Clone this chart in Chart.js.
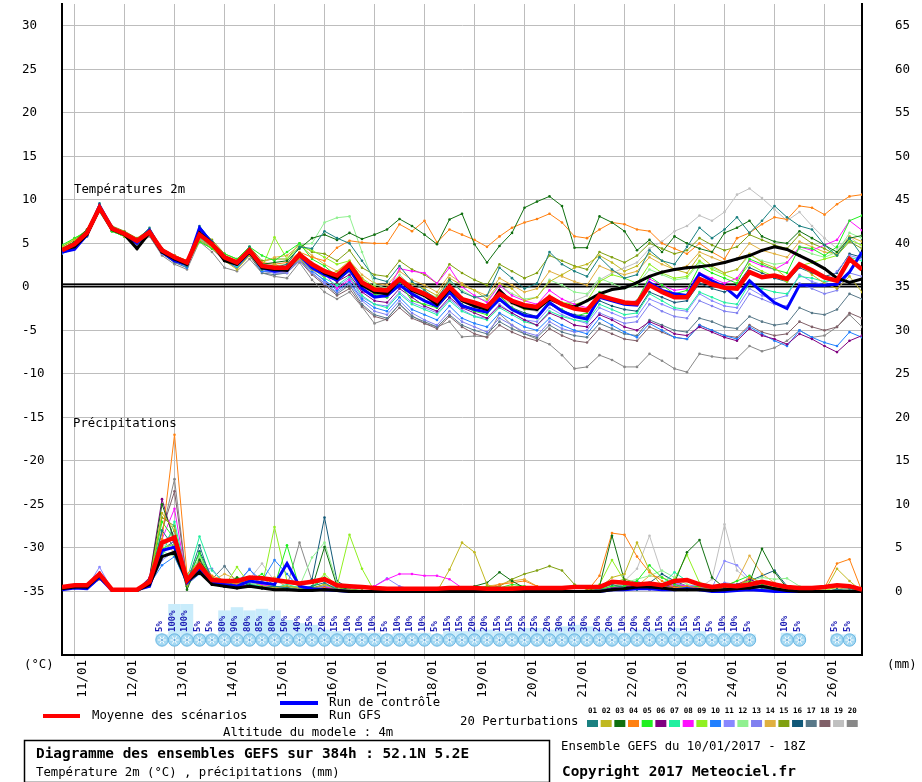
<!DOCTYPE html>
<html>
<head>
<meta charset="utf-8">
<title>Diagramme des ensembles GEFS</title>
<script src="https://cdn.jsdelivr.net/npm/chart.js@4"></script>
<style>
  body { margin: 0; background: #fff; }
  canvas { display: block; }
</style>
</head>
<body>
<canvas id="gefs" width="922" height="782"></canvas>
<script>
// ensemble GEFS 10/01/2017 18Z, one value per 6h step (0..384h)
const DAY_LABELS = ["11/01","12/01","13/01","14/01","15/01","16/01","17/01","18/01","19/01","20/01","21/01","22/01","23/01","24/01","25/01","26/01"];
const TEMP_TICKS = [-35,-30,-25,-20,-15,-10,-5,0,5,10,15,20,25,30];
const MM_TICKS = [0,5,10,15,20,25,30,35,40,45,50,55,60,65];

// temperature 2m (°C)
const MEAN_T = [4.2,4.9,6.2,9.1,6.7,6.1,5.3,6.3,4.2,3.4, 2.8,6.0,4.9,3.4,2.8,4.2,2.4,2.2,2.2,3.7, 2.6,1.8,1.3,2.6,0.5,-0.3,-0.4,0.9,-0.2,-0.8, -1.6,0.0,-1.4,-1.8,-2.3,-0.8,-1.6,-2.1,-2.3,-1.2, -2.0,-2.5,-2.7,-1.0,-1.4,-1.8,-1.9,0.2,-0.6,-1.2, -1.2,0.9,0.3,-0.1,-0.2,1.7,1.1,1.3,0.9,2.6, 1.9,1.1,0.7,3.2,2.0];
const CONTROL_T = [4.0,4.3,6.0,9.3,6.8,6.0,5.0,6.5,4.0,3.0, 2.6,6.8,5.0,3.2,2.6,4.0,2.2,1.8,2.0,3.6, 2.2,1.4,0.8,2.0,-0.2,-1.2,-1.0,0.2,-0.8,-1.6, -2.2,-0.6,-2.2,-2.6,-2.9,-1.4,-2.6,-3.3,-3.5,-1.8, -2.8,-3.4,-3.7,-1.2,-1.6,-2.0,-2.1,0.5,-0.4,-0.8, -1.0,1.5,0.7,0.0,-1.2,0.7,-0.6,-1.8,-2.5,0.2, 0.2,0.2,0.3,1.7,4.0];
const GFS_T = [4.3,4.6,6.0,9.0,6.6,6.0,4.4,6.2,4.0,3.2, 2.6,6.2,5.0,3.0,2.6,4.0,2.2,2.0,1.9,3.8, 2.6,1.6,1.0,2.4,0.2,-0.6,-0.8,0.8,-0.4,-1.0, -2.0,-0.2,-1.6,-2.2,-2.6,-0.4,-1.8,-2.4,-2.6,-1.4, -2.0,-2.3,-1.6,-0.8,-0.3,-0.1,0.5,1.2,1.7,2.0, 2.2,2.3,2.5,2.8,3.2,3.6,4.2,4.6,4.3,3.6, 2.9,2.1,1.0,0.5,0.9];

const P01_T = [4.0,4.8,6.4,9.6,6.8,6.2,5.4,6.8,4.4,3.2,2.4,7.0,5.2,3.6,2.8,4.6,2.0,2.2,2.6,4.6,4.4, 6.4,5.6,5.0,3.0,1.0,0.6,2.4,0.6,-0.4,-1.4,0.8,-0.6,-1.2,-1.0,2.2,1.0,-0.2,0.4,4.0,2.6,1.8,1.2,3.4,2.0,1.0,1.4,4.2,3.0,2.6,4.6,6.8,5.6,6.6,8.0,6.2,7.6,9.3,8.0,7.0,6.6,4.8,3.6,5.6,3.6];
const P02_T = [4.6,5.4,6.0,8.8,6.6,5.8,5.2,6.0,4.0,3.2,2.6,5.4,4.6,3.0,2.0,3.6,2.0,2.6,2.0,3.2,2.0, 1.2,1.8,2.8,1.0,-0.6,-0.8,0.6,0.4,-0.2,-1.0,1.0,0.2,-0.4,-1.4,0.4,-0.2,-1.6,-1.2,0.6,1.4,2.2,2.6,3.6,2.8,1.8,2.4,3.8,3.0,2.0,1.6,3.6,2.4,1.6,2.0,3.8,2.8,2.2,1.0,2.6,1.4,0.4,-0.2,1.2,-0.6];
const P03_T = [4.4,5.2,6.6,9.2,6.8,6.2,5.4,6.4,4.2,3.0,2.4,6.2,5.0,3.4,2.6,4.0,2.6,2.8,3.0,4.4,5.6, 6.0,5.4,6.2,5.5,6.0,6.6,7.8,7.0,6.0,4.9,7.75,8.4,4.9,2.8,4.7,6.2,9.1,9.8,10.4,9.3,4.5,4.5,8.1,7.4,6.4,4.2,5.4,4.0,5.8,5.0,4.4,4.0,6.2,6.8,7.6,5.8,5.2,5.0,6.4,5.6,4.8,4.0,5.6,5.9];
const P04_T = [4.2,5.0,6.2,9.0,6.6,6.0,5.4,6.2,4.4,3.6,3.0,5.8,4.8,3.6,3.0,4.4,2.8,2.6,2.8,4.0,3.4, 3.0,4.5,5.3,5.1,5.0,5.0,7.2,6.4,7.6,5.1,6.6,6.0,5.4,4.6,5.8,6.8,7.4,7.8,8.4,7.4,5.8,5.6,6.6,7.4,7.2,6.6,6.4,5.0,4.4,3.8,5.0,4.0,3.2,5.6,6.2,7.2,8.0,7.75,9.3,9.1,8.3,9.5,10.4,10.6];
const P05_T = [4.8,5.6,6.4,8.8,6.4,5.8,5.0,6.0,4.2,3.6,3.0,5.2,4.4,3.8,3.2,4.6,3.6,3.0,4.0,5.0,3.2, 2.4,1.2,2.0,0.2,-0.8,-1.2,0.4,-1.6,-2.0,-2.4,-0.4,-2.2,-2.8,-3.2,-1.0,-2.4,-3.2,-3.6,-1.8,-2.6,-3.4,-3.0,-0.6,-1.4,-2.0,-1.6,1.2,0.2,-0.8,-0.4,2.4,1.6,1.0,0.4,3.2,2.6,2.0,1.6,4.6,4.4,3.6,4.6,7.6,8.2];
const P06_T = [4.0,4.6,6.0,9.0,6.6,6.2,5.2,6.4,4.0,3.2,2.6,6.4,5.0,3.4,2.6,4.0,2.2,2.0,2.4,3.6,2.4, 1.6,0.6,1.4,-0.6,-1.6,-1.8,-0.2,-1.2,-2.2,-2.8,-1.2,-2.4,-3.0,-3.6,-2.2,-3.0,-3.8,-4.4,-3.0,-3.6,-4.4,-4.6,-3.2,-3.8,-4.6,-5.0,-4.0,-4.6,-5.4,-5.6,-4.6,-5.2,-5.8,-6.2,-4.8,-5.6,-6.0,-6.6,-5.4,-6.0,-6.8,-7.5,-6.2,-5.6];
const P07_T = [4.4,5.0,6.2,8.6,6.4,5.8,5.0,6.2,4.2,3.4,2.8,5.6,4.6,3.2,2.4,3.8,2.0,2.2,2.0,3.4,2.2, 1.0,0.2,1.2,-1.0,-2.0,-2.4,-0.8,-2.0,-2.6,-3.2,-1.6,-2.8,-3.4,-3.8,-2.4,-3.2,-4.0,-4.4,-2.8,-3.4,-3.8,-4.0,-2.0,-2.6,-3.2,-3.0,-0.8,-1.6,-2.4,-2.6,-0.6,-1.2,-1.8,-2.0,0.4,-0.2,-0.6,-0.8,1.2,1.0,0.6,0.8,3.4,3.0];
const P08_T = [4.0,4.8,6.2,9.2,6.8,6.0,5.2,6.2,4.2,3.6,2.8,5.8,4.8,3.4,2.8,4.2,2.4,2.0,2.2,3.6,2.4, 1.6,-0.2,0.8,-0.6,-0.8,-0.6,2.1,1.8,1.6,0.4,2.2,0.0,-1.0,-1.8,0.2,-1.0,-1.6,-2.0,-0.4,-1.4,-2.0,-2.4,-0.8,-1.4,-1.8,-1.6,0.9,0.2,-0.4,-0.2,1.6,1.0,0.4,1.0,3.0,2.4,2.0,2.8,4.6,4.2,4.8,5.4,7.6,6.5];
const P09_T = [4.6,5.6,6.4,8.8,6.4,5.8,5.0,6.0,4.0,3.4,2.6,5.2,4.4,3.2,2.6,3.8,2.2,5.7,3.2,4.6,4.2, 3.4,2.6,3.0,1.0,0.0,-0.4,1.0,-0.4,-1.0,-1.8,0.0,-1.2,-2.0,-2.4,-0.6,-1.8,-2.6,-2.6,-1.0,-1.8,-2.0,-1.6,0.6,1.4,1.0,0.4,2.6,1.6,1.0,1.2,3.0,2.0,1.4,0.8,2.6,1.8,1.2,0.6,2.4,2.8,3.2,3.6,5.4,4.8];
const P10_T = [3.8,4.4,5.8,9.0,6.6,6.0,5.2,6.2,4.0,3.0,2.2,6.0,4.8,3.0,2.2,3.8,1.8,1.8,2.0,3.4,1.8, 0.8,-0.4,0.6,-1.4,-2.4,-2.8,-1.2,-2.6,-3.2,-3.8,-2.2,-3.6,-4.2,-4.6,-3.0,-3.8,-4.6,-5.0,-3.6,-4.4,-5.0,-5.4,-3.6,-4.4,-5.2,-5.8,-4.2,-5.0,-5.8,-6.0,-4.4,-5.0,-5.6,-6.0,-4.6,-5.4,-6.2,-6.8,-5.0,-5.8,-6.4,-6.8,-5.2,-5.8];
const P11_T = [4.2,5.0,6.0,8.8,6.6,6.0,5.0,6.0,3.8,3.0,2.4,5.4,4.6,3.2,2.4,4.0,2.0,1.6,1.8,3.2,2.0, 0.6,0.0,1.0,-1.2,-2.0,-2.2,-0.6,-1.8,-2.4,-3.0,-1.4,-2.6,-3.4,-3.6,-2.0,-3.0,-3.8,-4.0,-2.4,-3.2,-3.8,-4.2,-2.4,-3.0,-3.6,-3.4,-1.4,-2.0,-2.6,-2.8,-0.8,-1.6,-2.2,-2.4,-0.2,-1.0,-1.4,-1.0,1.4,0.6,0.2,1.8,3.6,3.2];
const P12_T = [4.4,5.2,6.4,9.0,6.8,6.0,5.2,6.2,4.2,3.4,2.8,5.8,4.8,3.6,3.0,4.4,2.6,2.4,2.6,4.8,5.0, 7.4,7.95,8.1,4.0,0.3,-0.2,1.4,0.0,-0.6,-1.2,0.6,-0.4,-1.2,-1.6,0.2,-0.8,-1.4,-1.2,0.8,0.2,-0.6,-0.8,1.0,0.4,-0.2,0.2,2.0,1.4,0.8,1.0,2.8,2.2,1.6,2.0,3.6,3.0,2.6,2.8,4.4,3.8,3.4,4.0,6.2,5.6];
const P13_T = [4.0,4.6,6.0,9.2,6.8,6.2,5.2,6.4,4.0,3.0,2.4,6.4,5.2,3.2,2.4,3.8,1.8,1.6,1.6,3.0,1.6, 0.4,-0.6,0.4,-1.6,-2.8,-3.2,-1.6,-3.0,-3.8,-4.4,-2.8,-4.0,-4.6,-5.2,-3.6,-4.4,-5.2,-5.6,-4.0,-4.8,-5.2,-5.0,-3.0,-3.6,-4.2,-4.0,-2.0,-2.8,-3.4,-3.6,-1.6,-2.2,-2.8,-3.0,-0.8,-1.4,-2.0,-2.2,0.4,-0.2,-0.8,-0.4,1.6,1.2];
const P14_T = [4.4,5.2,6.2,8.8,6.4,5.8,5.2,6.0,4.0,3.4,2.8,5.6,4.6,3.6,3.0,4.2,2.8,3.4,3.6,4.8,3.6, 2.6,1.8,3.0,1.4,0.4,0.2,1.8,0.8,0.2,-0.6,1.4,0.4,-0.4,-1.0,1.0,0.2,-0.6,-0.2,1.8,1.2,0.6,0.2,2.4,1.8,1.4,1.8,3.4,2.6,2.0,2.4,4.0,3.4,2.8,3.2,5.0,4.2,3.8,3.4,5.2,4.6,4.0,3.8,5.8,5.2];
const P15_T = [4.6,5.4,6.6,9.4,7.0,6.4,5.6,6.6,4.4,3.6,3.0,6.6,5.4,3.8,3.2,4.6,3.0,3.2,3.2,5.0,4.0, 3.8,3.0,4.2,2.2,1.4,1.2,3.0,2.0,1.4,0.4,2.6,1.6,0.8,0.2,2.6,1.8,1.0,1.6,3.6,3.0,2.4,2.0,4.0,3.4,2.8,3.6,5.0,4.4,3.8,4.2,5.6,4.8,4.2,4.6,6.0,5.4,4.8,4.4,6.0,5.0,4.4,3.6,5.2,4.4];
const P16_T = [4.2,5.0,6.2,9.0,6.6,6.0,5.2,6.2,4.0,3.2,2.6,6.0,4.8,3.2,2.6,4.0,2.2,2.0,2.2,3.8,2.4, 1.4,0.6,1.8,-0.2,-1.0,-1.2,0.2,-1.0,-1.6,-2.4,-0.8,-2.0,-2.6,-3.0,-1.6,-2.4,-3.0,-3.4,-2.0,-2.8,-3.2,-3.4,-1.6,-2.2,-2.6,-2.8,-0.6,-1.2,-1.8,-1.6,0.4,-0.2,-0.6,0.2,2.2,1.6,1.0,0.6,2.2,1.6,1.2,1.6,3.8,3.4];
const P17_T = [4.0,4.8,6.0,9.0,6.6,6.0,5.0,6.2,3.8,2.8,2.2,6.2,5.0,3.0,2.2,3.6,1.6,1.4,1.6,3.2,1.6, 0.4,-0.8,0.2,-2.0,-3.2,-3.6,-2.0,-3.4,-4.0,-4.6,-3.2,-4.4,-5.0,-5.4,-4.0,-4.8,-5.4,-5.8,-4.4,-5.2,-5.6,-5.8,-4.2,-4.8,-5.4,-5.6,-3.8,-4.4,-5.0,-5.2,-3.6,-4.0,-4.6,-4.8,-3.4,-4.0,-4.4,-4.2,-2.4,-3.0,-3.2,-2.6,-0.8,-1.4];
const P18_T = [4.2,4.8,6.0,8.8,6.4,5.8,5.0,6.0,3.8,3.0,2.4,5.4,4.4,3.0,2.4,3.6,1.8,1.6,1.6,3.0,1.4, 0.2,-1.0,-0.2,-2.2,-3.4,-3.8,-2.4,-3.6,-4.2,-4.8,-3.4,-4.6,-5.4,-5.8,-4.4,-5.2,-5.8,-6.2,-4.8,-5.6,-6.2,-6.4,-4.8,-5.4,-6.0,-6.2,-4.6,-5.2,-5.8,-6.0,-4.4,-5.0,-5.6,-5.8,-4.4,-5.2,-5.6,-5.4,-4.0,-4.6,-5.0,-4.6,-3.0,-3.6];
const P19_T = [4.4,5.0,6.2,9.0,6.6,6.0,5.4,6.0,4.2,3.4,2.6,5.4,4.4,3.0,2.2,3.8,2.6,2.6,2.0,3.8,2.8, 1.8,1.0,2.0,0.0,-0.8,-1.0,0.6,-0.6,-1.2,-2.0,-0.2,-1.4,-2.2,-2.6,-1.2,-2.0,-2.6,-2.8,-1.2,-2.0,-1.6,-1.0,0.8,1.6,2.2,2.8,4.4,5.2,6.4,7.0,8.2,7.6,8.6,10.6,11.3,10.2,8.9,7.6,8.6,7.0,5.6,4.4,5.8,4.6];
const P20_T = [4.0,4.6,5.8,8.8,6.4,5.8,4.8,5.8,3.6,2.6,2.0,5.2,4.0,2.2,1.8,3.2,1.6,1.2,1.0,2.8,0.8, -0.6,-1.4,-0.6,-2.3,-4.2,-3.7,-1.95,-3.3,-4.2,-4.6,-4.0,-5.75,-5.65,-5.75,-3.1,-4.4,-5.4,-6.0,-6.6,-7.85,-9.4,-9.2,-7.85,-8.4,-9.2,-9.2,-7.7,-8.5,-9.4,-9.8,-7.7,-8.0,-8.2,-8.2,-6.8,-7.4,-7.0,-6.2,-5.0,-5.8,-5.6,-4.6,-3.2,-4.6];

// precipitation per 6h (mm)
const MEAN_P = [0.5,0.7,0.7,2.0,0.2,0.2,0.2,1.1,5.6,6.2, 1.3,3.0,1.3,1.2,1.2,1.6,1.5,1.3,1.1,0.9, 1.1,1.4,0.7,0.6,0.5,0.4,0.3,0.3,0.3,0.3, 0.3,0.4,0.4,0.4,0.3,0.3,0.3,0.4,0.4,0.4, 0.4,0.5,0.5,0.5,1.1,1.0,0.8,0.9,0.7,1.2, 1.3,0.8,0.5,0.7,0.6,0.8,1.1,0.8,0.5,0.4, 0.4,0.5,0.7,0.6,0.2];
const CONTROL_P = [0.2,0.4,0.3,1.6,0.1,0.1,0.2,0.6,4.7,5.1, 1.0,2.6,1.0,0.8,0.6,1.2,1.0,0.8,3.2,0.6, 0.3,0.2,0.1,0,0,0,0,0,0,0, 0,0,0,0,0,0,0,0,0,0, 0,0,0,0,0.2,0.2,0.3,0.3,0.2,0.2, 0.3,0.2,0,0,0.1,0.2,0.1,0,0,0, 0,0,0,0,0];
const GFS_P = [0.3,0.5,0.5,1.8,0.2,0.1,0.1,0.8,4.0,4.5, 1.2,2.2,0.8,0.6,0.4,0.6,0.4,0.2,0.2,0.1, 0.1,0.2,0.1,0,0,0,0,0,0,0, 0,0,0,0,0,0,0,0,0,0, 0,0,0,0,0.2,0.3,0.5,0.5,0.4,0.2, 0.2,0.2,0.1,0.2,0.3,0.4,0.6,0.3,0.1,0, 0,0,0,0,0];

const P01_P = [0.2,0.5,0.4,1.6,0.1,0.1,0.2,1.0,7.0,5.0, 1.0,5.3,1.0,0.6,1.2,0.8,0.4,0.6,0.4,0.2, 0.6,1.0,0.2,0.1,0,0,0,0,0,0, 0,0,0,0,0,0,0,0,0,0, 0,0,0,0.3,0.8,0.4,0.2,0.6,0.3,0.2, 0.4,0.2,0,0.3,0.2,0.8,0.4,0.2,0,0, 0,0,0.2,0.3,0];
const P02_P = [0.3,0.6,0.5,1.8,0.2,0.1,0.2,1.2,9.0,7.0, 0.8,3.2,1.6,0.8,1.0,1.4,0.6,0.4,0.6,0.4, 0.3,0.8,0.2,0.2,0.1,0,0,0,0,0, 0,2.5,5.6,4.5,0.8,0.2,0.6,0.4,0.2,0.2, 0,0,0,0.4,1.6,2.0,5.6,2.4,0.6,0.3, 0.2,0.4,0.2,0,0.3,0.8,0.4,0.2,0,0, 0,0,2.6,1.2,0];
const P03_P = [0.3,0.5,0.4,1.6,0.1,0.1,0.2,1.4,10.0,6.0, 0.2,3.6,1.4,0.6,1.6,0.6,0.4,0.2,0.4,0.2, 0.4,5.1,0.6,0.2,0.1,0,0,0,0,0, 0,0,0.2,0.6,1.0,2.2,1.2,0.4,0.2,0, 0,0,0,0.6,6.4,1.2,0.6,0.8,0.4,1.0, 4.5,5.9,1.6,0.4,0.2,1.0,4.9,2.2,0.4,0, 0,0,0.2,0,0];
const P04_P = [0.2,0.4,0.3,1.4,0.1,0.1,0.1,0.8,6.0,18.0, 2.0,3.4,1.8,1.2,0.8,1.6,1.0,0.4,0.2,0.2, 0.3,0.4,0.2,0,0,0,0,0,0,0, 0,0,0,0.2,0.4,0.8,1.0,1.2,0.6,0.3, 0.2,0,0,1.8,6.7,6.5,4.0,2.2,1.2,0.4, 0.6,0.3,0.2,0.4,0.6,1.6,1.0,0.6,0.2,0, 0,0.4,3.2,3.7,0];
const P05_P = [0.4,0.6,0.5,2.0,0.2,0.1,0.2,1.0,8.0,6.0, 1.2,4.4,1.2,0.8,1.6,1.2,2.0,0.6,5.3,0.4, 0.4,1.6,0.6,0.2,0.1,0,0,0,0,0, 0,0,0,0.2,0.6,0.4,0.8,0.6,0.3,0.2, 0,0,0,0.2,0.6,0.6,1.2,3.0,1.6,0.8, 0.4,0.6,0.4,0.6,1.2,1.8,0.8,0.4,0.2,0, 0,0,0,0,0];
const P06_P = [0.3,0.5,0.4,1.8,0.2,0.1,0.2,1.6,10.6,5.6, 0.8,2.2,1.4,0.6,0.8,0.6,0.4,0.2,0.3,0.2, 0.2,0.4,0.2,0.1,0,0,0,0,0,0, 0,0,0,0,0.2,0.2,0.4,0.2,0,0, 0,0,0,0.2,0.4,0.6,0.4,0.8,0.6,0.4, 0.2,0.6,0.4,0.2,0.8,1.4,0.8,0.4,0.2,0, 0,0,0.2,0,0];
const P07_P = [0.2,0.4,0.4,1.6,0.1,0.1,0.1,0.6,4.0,8.0, 1.4,6.3,2.4,1.0,1.2,0.8,0.6,0.4,0.8,0.4, 0.6,1.4,0.2,0.1,0,0,0,0,0,0, 0,0,0,0,0.2,0.4,0.2,0.2,0,0, 0,0,0,0.2,0.4,0.6,0.8,1.0,0.8,2.2, 1.2,0.8,0.4,0.2,0.6,1.0,0.6,0.4,0.2,0, 0,0,0,0,0];
const P08_P = [0.3,0.5,0.5,1.8,0.2,0.1,0.2,1.0,6.0,9.5, 1.0,2.4,1.2,0.8,1.0,1.2,0.8,0.4,0.4,0.2, 0.2,0.4,0.6,0.4,0.3,0.6,1.4,2.0,2.0,1.8, 1.8,1.4,0.4,0.2,0,0,0,0,0,0, 0,0,0,0,0.4,0.6,0.4,0.6,0.4,0.8, 0.6,0.4,0.2,0.4,0.6,0.8,0.6,0.4,0,0, 0,0,0,0,0];
const P09_P = [0.4,0.6,0.5,1.8,0.2,0.1,0.2,1.2,5.0,5.4, 0.6,3.0,1.4,0.6,2.8,0.8,0.6,7.4,1.2,0.6, 0.4,2.0,0.6,6.5,2.6,0,0,0,0,0, 0,0,0,0,0.2,0.2,0.4,0.2,0,0, 0,0,0,0.8,3.6,1.2,0.6,0.8,0.6,1.4, 4.2,1.0,0.6,0.4,0.8,1.2,0.6,0.4,0.2,0, 0,0,0.6,0.4,0];
const P10_P = [0.2,0.4,0.3,1.6,0.1,0.1,0.2,0.8,3.0,4.0, 0.8,2.0,1.0,0.8,1.0,2.5,1.2,3.6,2.0,0.4, 0.2,0.4,0.2,0,0,0,0,0,0,0, 0,0,0,0,0,0,0,0,0,0, 0,0,0,0,0.2,0.4,0.6,0.4,0.2,0.2, 0.2,0.4,0.2,0.2,0.4,0.6,0.4,0.2,0,0, 0,0,0,0,0];
const P11_P = [0.3,0.6,0.5,2.8,0.2,0.2,0.2,0.6,3.6,4.6, 1.0,2.2,1.0,0.6,0.8,2.6,0.6,0.4,0.4,0.2, 0.2,0.6,0.2,0.2,0.4,0.6,1.5,0.6,0.2,0, 0,0,0,0.4,0.2,0,0,0,0,0, 0,0,0,0.2,0.4,0.8,1.2,0.6,0.8,1.0, 0.6,0.8,0.4,3.5,3.0,1.4,0.6,0.4,0.2,0, 0,0,0,0,0];
const P12_P = [0.3,0.5,0.4,1.6,0.2,0.1,0.2,1.0,4.6,4.0, 0.8,4.0,1.4,0.8,0.6,1.0,0.8,0.6,0.4,0.6, 3.9,5.6,1.0,0.2,0,0,0,0,0,0, 0,0,0,0,0.2,0.4,0.6,0.4,0.2,0, 0,0,0,0.2,0.6,1.0,1.4,1.8,2.4,1.6, 0.8,0.6,0.4,0.2,0.6,1.2,1.6,1.4,1.5,0.6, 0.4,0.2,0,0,0];
const P13_P = [0.2,0.5,0.4,2.2,0.1,0.1,0.2,0.8,4.2,6.0, 0.6,2.6,2.6,0.8,0.6,1.0,0.8,0.4,0.2,0.2, 0.2,0.4,0.2,0,0,0,0,0,0,0, 0,0,0,0,0,0,0,0,0,0, 0,0,0,0.2,0.2,0.4,0.4,0.2,0.6,0.8, 0.6,0.4,0.4,1.0,0.8,0.6,0.4,0.2,0,0, 0,0,0,0,0];
const P14_P = [0.4,0.6,0.6,1.8,0.2,0.2,0.2,1.2,6.0,4.4, 1.6,2.8,1.2,2.0,1.4,1.2,0.8,1.6,0.4,0.4, 0.2,0.4,0.2,0,0,0,0,0,0,0, 0,0,0.2,0.4,0.6,0.8,1.2,1.4,0.6,0.2, 0,0,0,0.2,0.6,0.8,0.6,1.8,1.6,1.0, 0.6,0.4,0.4,0.6,1.2,4.1,2.0,1.0,0.4,0.2, 0,0.2,0.4,0.2,0];
const P15_P = [0.3,0.5,0.4,1.8,0.2,0.1,0.2,1.4,8.5,7.5, 0.6,3.4,1.6,1.0,0.8,1.2,0.6,0.4,0.6,0.4, 0.4,0.8,0.4,0.2,0,0,0,0,0,0, 0,0,0,0,0.4,0.6,1.4,2.0,2.4,2.9, 2.4,0.8,0.2,0.4,1.0,1.4,1.0,0.8,0.6,0.4, 0.6,0.4,0.2,0.4,0.6,0.8,0.6,0.4,0.2,0, 0,0,0,0,0];
const P16_P = [0.2,0.5,0.4,1.6,0.1,0.1,0.1,0.8,4.8,5.8, 1.0,4.6,1.6,0.8,0.6,0.8,1.0,0.6,0.4,0.6, 1.4,8.5,1.2,0.3,0,0,0,0,0,0, 0,0,0,0,0,0,0,0,0,0, 0,0,0,0,0.4,0.6,0.8,1.0,2.0,1.2, 0.6,0.4,0.2,0.4,0.8,1.2,1.8,2.4,0.6,0.2, 0,0,0,0,0];
const P17_P = [0.3,0.5,0.4,1.8,0.1,0.1,0.2,0.8,5.4,7.0, 0.8,3.6,1.4,2.9,1.0,0.8,0.4,0.2,0.4,0.6, 0.4,0.6,0.2,0,0,0,0,0,0,0, 0,0,0,0,0,0,0,0,0,0, 0,0,0,0,0.2,0.6,0.4,0.6,0.4,0.8, 0.4,0.6,0.4,0.2,0.4,0.8,0.6,0.4,0,0, 0,0,0,0,0];
const P18_P = [0.2,0.4,0.3,1.4,0.1,0.1,0.2,1.0,7.0,11.5, 1.2,3.8,1.6,1.2,0.8,0.6,0.4,0.2,0.2,0.4, 0.2,0.4,0.2,0,0,0,0,0,0,0, 0,0,0,0,0,0,0,0,0,0, 0,0,0,0,0.2,0.4,0.4,0.2,0.4,0.6, 0.4,0.2,0.2,0.4,0.6,0.4,0.2,0.2,0,0, 0,0,0,0,0];
const P19_P = [0.3,0.5,0.4,1.8,0.2,0.1,0.2,0.8,5.0,6.6, 1.0,2.8,1.2,0.8,1.0,1.4,3.2,1.2,0.6,0.4, 0.4,0.6,0.2,0,0,0,0,0,0,0, 0,0,0,0,0,0.2,0.4,0.2,0,0, 0,0,0,0.4,0.8,1.2,2.6,6.4,2.0,1.0, 0.6,0.4,1.4,7.7,2.4,1.2,0.6,0.4,0.2,0, 0,0,0,0,0];
const P20_P = [0.2,0.4,0.4,1.6,0.1,0.1,0.2,0.8,6.8,12.9, 1.0,3.0,1.4,0.8,1.2,0.6,0.8,0.4,0.6,5.6, 1.2,0.4,0.2,0,0,0,0,0,0,0, 0,0,0,0,0,0,0,0,0,0, 0,0,0,0,0.2,0.4,0.6,0.4,0.2,0.2, 0.4,0.2,0.2,0.4,0.4,0.6,0.4,0.2,0,0, 0,0,0,0,0];

// probability of snow (%) per step, null = none
const SNOW_PCT = [null,null,null,null,null,null,null,null,
  5,100,100,5,5,80,90,80,85,80,
  50,40,35,20,15,10,10,10,5,10,
  10,10,5,15,15,20,20,15,15,25,
  25,20,30,35,30,20,20,10,20,20,
  15,25,15,15,5,10,10,5,
  null,null,10,5,null,null,5,5,null];

const PERT_COLORS = ["#1a8080","#c0b820","#107010","#ff8010","#20f020","#800080","#20f0a0","#ff10ff","#90f020","#2080ff",
  "#8888ff","#90f090","#8080f0","#e0b040","#80a010","#105878","#587888","#806068","#c0c0c0","#888888"];
const PERT_T = [P01_T,P02_T,P03_T,P04_T,P05_T,P06_T,P07_T,P08_T,P09_T,P10_T,P11_T,P12_T,P13_T,P14_T,P15_T,P16_T,P17_T,P18_T,P19_T,P20_T];
const PERT_P = [P01_P,P02_P,P03_P,P04_P,P05_P,P06_P,P07_P,P08_P,P09_P,P10_P,P11_P,P12_P,P13_P,P14_P,P15_P,P16_P,P17_P,P18_P,P19_P,P20_P];

const HOURS = MEAN_T.map((_, i) => i * 6);
const MONO = '"DejaVu Sans Mono", monospace';

function lineSet(data, axis, color, width, dot) {
  return {
    data: data,
    yAxisID: axis,
    borderColor: color,
    backgroundColor: color,
    borderWidth: width,
    pointRadius: dot,
    pointBorderWidth: 0,
    tension: 0,
  };
}

const datasets = [
  lineSet(MEAN_T, "y", "#ff0000", 4.5, 0),
  lineSet(MEAN_P, "y2", "#ff0000", 4.5, 0),
  lineSet(GFS_T, "y", "#000000", 3, 1.5),
  lineSet(GFS_P, "y2", "#000000", 3, 1.5),
  lineSet(CONTROL_T, "y", "#0000ff", 3, 0),
  lineSet(CONTROL_P, "y2", "#0000ff", 3, 0),
];
PERT_T.forEach((d, k) => datasets.push(lineSet(d, "y", PERT_COLORS[k], 1, 1.3)));
PERT_P.forEach((d, k) => datasets.push(lineSet(d, "y2", PERT_COLORS[k], 1, 1.3)));

// keep the plot area flush with the canvas top (no label half-height padding)
function noAxisPadding(scale) {
  scale.paddingTop = 0;
  scale.paddingBottom = 0;
  scale.paddingLeft = 0;
  scale.paddingRight = 0;
}

function drawSnowflake(c, x, y) {
  c.beginPath();
  c.arc(x, y, 6.2, 0, Math.PI * 2);
  c.fillStyle = "#a4d8f2";
  c.fill();
  c.strokeStyle = "#6ab6e2";
  c.lineWidth = 1;
  c.stroke();
  c.strokeStyle = "#ffffff";
  c.lineWidth = 1;
  for (let a = 0; a < 3; a++) {
    const ang = a * Math.PI / 3;
    c.beginPath();
    c.moveTo(x - 4.2 * Math.cos(ang), y - 4.2 * Math.sin(ang));
    c.lineTo(x + 4.2 * Math.cos(ang), y + 4.2 * Math.sin(ang));
    c.stroke();
  }
  c.fillStyle = "#3c8fd0";
  c.fillRect(x - 0.8, y - 0.8, 1.6, 1.6);
}

const meteoDecor = {
  id: "meteoDecor",
  beforeDatasetsDraw(chart) {
    const c = chart.ctx;
    const area = chart.chartArea;
    const y0 = chart.scales.y.getPixelForValue(0);
    c.save();
    // double zero line
    c.fillStyle = "#000";
    c.fillRect(area.left, y0 - 3.5, area.right - area.left, 2);
    // snow probability background
    const xs = chart.scales.x;
    c.fillStyle = "#c9ecfb";
    SNOW_PCT.forEach((p, i) => {
      if (p === null) return;
      const x = xs.getPixelForValue(HOURS[i]);
      const top = 636 - p * 0.32;
      c.fillRect(x - 6.25, top, 12.5, 640 - top);
    });
    c.restore();
  },
  afterDatasetsDraw(chart) {
    const c = chart.ctx;
    const xs = chart.scales.x;
    c.save();
    SNOW_PCT.forEach((p, i) => {
      if (p === null) return;
      drawSnowflake(c, xs.getPixelForValue(HOURS[i]), 640);
    });
    c.fillStyle = "#1c1cb4";
    c.font = "bold 9px " + MONO;
    c.textAlign = "left";
    c.textBaseline = "middle";
    SNOW_PCT.forEach((p, i) => {
      if (p === null) return;
      const x = xs.getPixelForValue(HOURS[i]) - 2;
      c.save();
      c.translate(x, 632);
      c.rotate(-Math.PI / 2);
      c.fillText(p + "%", 0, 0);
      c.restore();
    });
    c.restore();
  },
  afterDraw(chart) {
    const c = chart.ctx;
    c.save();
    c.fillStyle = "#000";
    c.textBaseline = "middle";
    c.textAlign = "left";
    c.font = "12.3px " + MONO;
    c.fillText("Températures 2m", 74, 190);
    c.fillText("Précipitations", 73, 424);
    c.fillText("(°C)", 24, 665);
    c.fillText("(mm)", 887, 665);

    // legend lines
    const legendLine = (x1, x2, y, color) => {
      c.strokeStyle = color;
      c.lineWidth = 4;
      c.beginPath();
      c.moveTo(x1, y);
      c.lineTo(x2, y);
      c.stroke();
    };
    legendLine(43, 80, 716, "#ff0000");
    legendLine(280, 318, 703, "#0000ff");
    legendLine(280, 318, 716, "#000000");
    c.fillText("Moyenne des scénarios", 92, 716);
    c.fillText("Run de contrôle", 329, 703);
    c.fillText("Run GFS", 329, 716);
    c.fillText("Altitude du modele : 4m", 223, 733);
    c.fillText("20 Perturbations", 460, 722);

    // perturbation swatches
    PERT_COLORS.forEach((col, k) => {
      const x = 587 + k * 13.67;
      c.fillStyle = col;
      c.fillRect(x, 720, 11, 7);
      c.fillStyle = "#000";
      c.font = "bold 7.5px " + MONO;
      c.textAlign = "center";
      c.fillText(String(k + 1).padStart(2, "0"), x + 5.5, 711);
    });

    // title box
    c.textAlign = "left";
    c.strokeStyle = "#000";
    c.lineWidth = 1.5;
    c.strokeRect(24.5, 740.5, 525, 42);
    c.fillStyle = "#000";
    c.font = "bold 14.4px " + MONO;
    c.fillText("Diagramme des ensembles GEFS sur 384h : 52.1N 5.2E", 36, 754);
    c.font = "12.3px " + MONO;
    c.fillText("Température 2m (°C) , précipitations (mm)", 36, 773);
    c.fillText("Ensemble GEFS du 10/01/2017 - 18Z", 561, 747);
    c.font = "bold 14.4px " + MONO;
    c.fillText("Copyright 2017 Meteociel.fr", 562, 772);
    c.restore();
  },
};

const ctx = document.getElementById("gefs").getContext("2d");
const config = {
  type: "line",
  data: { labels: HOURS, datasets: datasets },
  options: {
    responsive: false,
    animation: false,
    layout: { padding: { left: 22, right: 0, top: 0, bottom: 0 } },
    plugins: { legend: { display: false }, tooltip: { enabled: false } },
    scales: {
      x: {
        type: "linear",
        min: 0,
        max: 384,
        afterBuildTicks: (scale) => {
          scale.ticks = DAY_LABELS.map((_, k) => ({ value: 6 + 24 * k }));
        },
        afterFit: (scale) => { scale.height = 127; noAxisPadding(scale); },
        grid: { color: "#bdbdbd", tickLength: 4, tickColor: "#bdbdbd" },
        border: { color: "#000", width: 2 },
        ticks: {
          autoSkip: false,
          minRotation: 90,
          maxRotation: 90,
          labelOffset: 8,
          padding: 1,
          color: "#000",
          font: { family: MONO, size: 12.5 },
          callback: (v) => DAY_LABELS[(v - 6) / 24],
        },
      },
      y: {
        position: "left",
        min: -42.31,
        max: 32.51,
        afterBuildTicks: (scale) => {
          scale.ticks = TEMP_TICKS.map((v) => ({ value: v }));
        },
        afterFit: (scale) => { scale.width = 40; noAxisPadding(scale); },
        grid: {
          color: (c) => (c.tick && c.tick.value === 0 ? "#000" : "#bdbdbd"),
          lineWidth: (c) => (c.tick && c.tick.value === 0 ? 1.5 : 1),
          drawTicks: false,
        },
        border: { color: "#000", width: 2 },
        ticks: {
          crossAlign: "far",
          color: "#000",
          font: { family: MONO, size: 12.5 },
        },
      },
      y2: {
        position: "right",
        min: -7.31,
        max: 67.51,
        afterBuildTicks: (scale) => {
          scale.ticks = MM_TICKS.map((v) => ({ value: v }));
        },
        afterFit: (scale) => { scale.width = 60; noAxisPadding(scale); },
        grid: { display: false },
        border: { color: "#000", width: 2 },
        ticks: {
          crossAlign: "near",
          padding: 25,
          color: "#000",
          font: { family: MONO, size: 12.5 },
        },
      },
    },
  },
  plugins: [meteoDecor],
};
new Chart(ctx, config);
</script>
</body>
</html>
